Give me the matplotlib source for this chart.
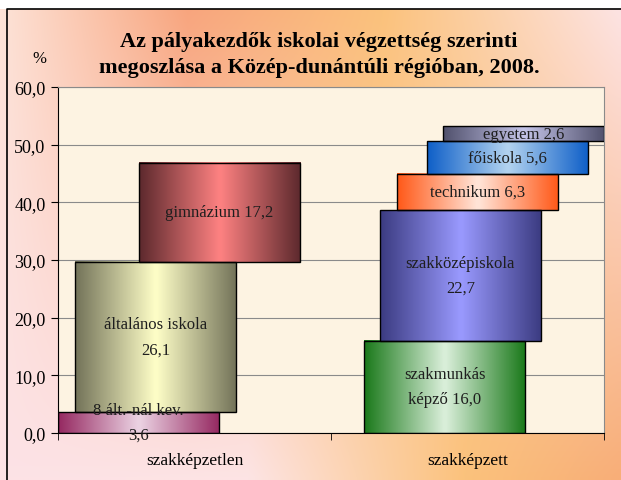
import matplotlib
matplotlib.use("Agg")
import matplotlib.pyplot as plt
from matplotlib.patches import Rectangle
from matplotlib.colors import to_rgb
import numpy as np

# adatok
categories = ["szakképzetlen", "szakképzett"]
left_labels = ["8 ált.-nál kev.\n3,6", "általános iskola\n26,1", "gimnázium 17,2"]
left_values = [3.6, 26.1, 17.2]
right_labels = ["szakmunkás\nképző 16,0", "szakközépiskola\n22,7", "technikum 6,3",
                "főiskola 5,6", "egyetem 2,6"]
right_values = [16.0, 22.7, 6.3, 5.6, 2.6]
yticks = [0, 10, 20, 30, 40, 50, 60]

# elrendezés (bal szélek, kategória-egységben)
left_offsets = [0.0, 0.062, 0.297]
right_offsets = [1.121, 1.179, 1.242, 1.352, 1.410]
bar_w = 0.59
left_colors = [("#962a62", "#ecd4e4"), ("#74745a", "#ffffc8"), ("#5e2a2e", "#ff8282")]
right_colors = [("#1c7a1c", "#dcf0dc"), ("#3c3c82", "#9a9aff"), ("#ff5a1a", "#ffe6da"),
                ("#1060c8", "#b4d4f0"), ("#52526e", "#c4c4e8")]

serif = ["Liberation Serif", "DejaVu Serif"]
plt.rcParams['font.family'] = serif

fig = plt.figure(figsize=(6.21, 4.81), dpi=100)

# háttér színátmenet
bg = fig.add_axes([0, 0, 1, 1])
H, W = 96, 124
yy, xx = np.mgrid[0:1:H * 1j, 0:1:W * 1j]
c_tl = np.array(to_rgb("#fde2d6"))
c_tm = np.array(to_rgb("#f8a47c"))
c_tr = np.array(to_rgb("#fde4e4"))
c_bl = np.array(to_rgb("#fde2e6"))
c_br = np.array(to_rgb("#f8ae78"))
c_mid = np.array(to_rgb("#fbc27c"))
img = np.zeros((H, W, 3))
for k in range(3):
    top = np.interp(xx[0], [0, 0.3, 0.62, 1], [c_tl[k], c_tm[k], c_mid[k], c_tr[k]])
    bot = np.interp(xx[0], [0, 0.4, 0.75, 1], [c_bl[k], c_tr[k], c_mid[k], c_br[k]])
    img[:, :, k] = top[None, :] * (1 - yy) + bot[None, :] * yy
bg.imshow(img, extent=(0, 1, 0, 1), aspect='auto', interpolation='bilinear')
bg.add_patch(Rectangle((0, 0.979), 1, 0.05, facecolor="white", edgecolor="none"))
bg.plot([7 / 621, 7 / 621, 1], [0, 0.979, 0.979], color="black", lw=1.2)
bg.set_xlim(0, 1)
bg.set_ylim(0, 1)
bg.axis("off")

ax = fig.add_axes([58 / 621, 47 / 481, 546 / 621, 346 / 481])
ax.set_facecolor("#fdf3e2")
ax.set_xlim(0, 2)
ax.set_ylim(0, 60)
ax.set_yticks(yticks)
ax.set_yticklabels([f"{v:.1f}".replace(".", ",") for v in yticks], fontsize=13)
ax.yaxis.grid(True, color="#8a8a8a", lw=0.8)
ax.set_axisbelow(True)
ax.set_xticks([0.5, 1.5])
ax.set_xticklabels(categories, fontsize=12.5)
ax.tick_params(axis="x", which="major", length=0, pad=14)
ax.set_xticks([0, 1, 2], minor=True)
ax.tick_params(axis="x", which="minor", length=5, color="black")
ax.tick_params(axis="y", length=5, color="black", pad=4)
for s in ["top", "right"]:
    ax.spines[s].set_color("#8a8a8a")
ax.spines["left"].set_color("black")
ax.spines["bottom"].set_color("black")


def grad_bar(x0, y0, h, edge, center, label):
    e = np.array(to_rgb(edge))
    c = np.array(to_rgb(center))
    u = np.linspace(0, 1, 64)
    t = np.abs(2 * u - 1)
    row = c[None, :] * (1 - t[:, None]) + e[None, :] * t[:, None]
    ax.imshow(row[None, :, :], extent=(x0, x0 + bar_w, y0, y0 + h),
              aspect='auto', interpolation='bilinear', zorder=2)
    ax.add_patch(Rectangle((x0, y0), bar_w, h, facecolor="none",
                           edgecolor="black", lw=1.0, zorder=3))
    ax.text(x0 + bar_w / 2, y0 + h / 2, label, ha="center", va="center",
            fontsize=12, color="#1e1e1e", linespacing=1.75, zorder=4)


base = 0
for off, v, lab, (e, c) in zip(left_offsets, left_values, left_labels, left_colors):
    grad_bar(off, base, v, e, c, lab)
    base += v
base = 0
for off, v, lab, (e, c) in zip(right_offsets, right_values, right_labels, right_colors):
    grad_bar(off, base, v, e, c, lab)
    base += v
ax.set_xlim(0, 2)
ax.set_ylim(0, 60)

fig.text(0.514, 1 - 55 / 481, "Az pályakezdők iskolai végzettség szerinti\nmegoszlása a Közép-dunántúli régióban, 2008.",
         ha="center", va="center", fontsize=16, fontweight="bold", linespacing=1.45)
fig.text(39 / 621, 1 - 59 / 481, "%", ha="center", va="center", fontsize=12)

fig.savefig("out.png", dpi=100)
